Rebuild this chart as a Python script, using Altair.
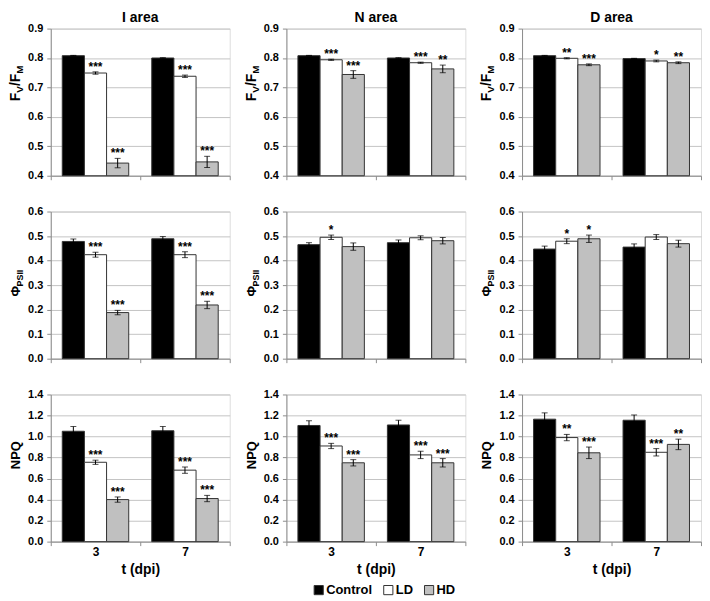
import altair as alt
import pandas as pd

FONT = "Liberation Sans"

TIMES = ["3", "7"]
TREATMENTS = ["Control", "LD", "HD"]
AREAS = ["I area", "N area", "D area"]
COLORS = ["#000000", "#ffffff", "#c0c0c0"]

# order of each list: 3-Control, 3-LD, 3-HD, 7-Control, 7-LD, 7-HD
FVFM_I = [0.808, 0.749, 0.443, 0.800, 0.738, 0.447]
FVFM_I_ERR = [0.001, 0.004, 0.016, 0.001, 0.004, 0.019]
FVFM_I_SIG = ["", "***", "***", "", "***", "***"]
FVFM_N = [0.808, 0.794, 0.744, 0.800, 0.784, 0.763]
FVFM_N_ERR = [0.001, 0.002, 0.013, 0.001, 0.002, 0.013]
FVFM_N_SIG = ["", "***", "***", "", "***", "**"]
FVFM_D = [0.808, 0.799, 0.777, 0.798, 0.790, 0.784]
FVFM_D_ERR = [0.001, 0.002, 0.003, 0.001, 0.003, 0.003]
FVFM_D_SIG = ["", "**", "***", "", "*", "**"]

PHI_I = [0.478, 0.424, 0.188, 0.489, 0.424, 0.219]
PHI_I_ERR = [0.010, 0.010, 0.009, 0.009, 0.012, 0.015]
PHI_I_SIG = ["", "***", "***", "", "***", "***"]
PHI_N = [0.465, 0.495, 0.457, 0.473, 0.493, 0.481]
PHI_N_ERR = [0.008, 0.009, 0.015, 0.011, 0.008, 0.013]
PHI_N_SIG = ["", "*", "", "", "", ""]
PHI_D = [0.447, 0.479, 0.489, 0.455, 0.496, 0.469]
PHI_D_ERR = [0.012, 0.010, 0.015, 0.013, 0.010, 0.014]
PHI_D_SIG = ["", "*", "*", "", "", ""]

NPQ_I = [1.050, 0.755, 0.400, 1.055, 0.680, 0.410]
NPQ_I_ERR = [0.045, 0.020, 0.025, 0.040, 0.030, 0.030]
NPQ_I_SIG = ["", "***", "***", "", "***", "***"]
NPQ_N = [1.105, 0.910, 0.750, 1.110, 0.825, 0.750]
NPQ_N_ERR = [0.045, 0.025, 0.030, 0.045, 0.035, 0.040]
NPQ_N_SIG = ["", "***", "***", "", "***", "***"]
NPQ_D = [1.165, 0.990, 0.845, 1.155, 0.850, 0.925]
NPQ_D_ERR = [0.060, 0.030, 0.055, 0.050, 0.035, 0.050]
NPQ_D_SIG = ["", "**", "***", "", "***", "**"]

ROWS = [
    dict(domain=[0.4, 0.9], ticks=[0.4, 0.5, 0.6, 0.7, 0.8, 0.9],
         title=[("F", 14, False), ("V", 10, True), ("/F", 14, False), ("M", 10, True)],
         tcenter=55,
         data=[(FVFM_I, FVFM_I_ERR, FVFM_I_SIG), (FVFM_N, FVFM_N_ERR, FVFM_N_SIG),
               (FVFM_D, FVFM_D_ERR, FVFM_D_SIG)]),
    dict(domain=[0.0, 0.6], ticks=[0.0, 0.1, 0.2, 0.3, 0.4, 0.5, 0.6],
         title=[("Φ", 13, False), ("PSII", 9, True)],
         tcenter=72,
         data=[(PHI_I, PHI_I_ERR, PHI_I_SIG), (PHI_N, PHI_N_ERR, PHI_N_SIG),
               (PHI_D, PHI_D_ERR, PHI_D_SIG)]),
    dict(domain=[0.0, 1.4], ticks=[0.0, 0.2, 0.4, 0.6, 0.8, 1.0, 1.2, 1.4],
         title=[("NPQ", 13, False)],
         tcenter=61,
         data=[(NPQ_I, NPQ_I_ERR, NPQ_I_SIG), (NPQ_N, NPQ_N_ERR, NPQ_N_SIG),
               (NPQ_D, NPQ_D_ERR, NPQ_D_SIG)]),
]

CHARW = {"F": 0.611, "V": 0.667, "/": 0.278, "M": 0.833, "Φ": 0.778, "P": 0.667,
         "S": 0.667, "I": 0.278, "N": 0.722, "Q": 0.778}

W, H = 180, 148


def text_width(txt, size):
    return sum(CHARW.get(c, 0.6) for c in txt) * size


def make_df(vals, errs, sigs):
    rows = []
    i = 0
    for t in TIMES:
        for tr in TREATMENTS:
            rows.append(dict(t=t, trt=tr, val=vals[i], lo=vals[i] - errs[i],
                             hi=vals[i] + errs[i], sig=sigs[i]))
            i += 1
    return pd.DataFrame(rows)


def one_row():
    return alt.Data(values=[{"k": 0}])


def title_layers(pieces, center):
    total = sum(text_width(t, s) for t, s, _ in pieces)
    y = center + total / 2
    layers = []
    for txt, size, sub in pieces:
        layers.append(
            alt.Chart(one_row())
            .mark_text(text=txt, angle=270, align="left", baseline="alphabetic",
                       font=FONT, fontWeight="bold", fontSize=size, color="black")
            .encode(x=alt.value(-31 + (3 if sub else 0)), y=alt.value(y))
        )
        y -= text_width(txt, size)
    return layers


def panel(r, c):
    row = ROWS[r]
    vals, errs, sigs = row["data"][c]
    df = make_df(vals, errs, sigs)
    bottom = r == 2

    x_axis = alt.Axis(
        title="t (dpi)" if bottom else None, labels=bottom, tickBand="extent",
        tickSize=4, tickColor="#8c8c8c", domainColor="#8c8c8c", labelAngle=0,
        labelFont=FONT, labelFontWeight="bold", labelFontSize=12, labelColor="black",
        labelPadding=1, titleFont=FONT, titleFontWeight="bold", titleFontSize=14,
        titleColor="black", titlePadding=5, grid=False,
    )
    x = alt.X("t:N", sort=TIMES, scale=alt.Scale(paddingInner=0, paddingOuter=0), axis=x_axis)
    xo = alt.XOffset("trt:N", sort=TREATMENTS,
                     scale=alt.Scale(paddingInner=0, paddingOuter=0.52))
    y_axis = alt.Axis(
        values=row["ticks"], format=".1f", title=None, labelFont=FONT,
        labelFontWeight="bold", labelFontSize=11, labelColor="black", labelPadding=4,
        labelOverlap=False, tickSize=4, tickColor="#8c8c8c", domainColor="#8c8c8c",
        gridColor="#c4c4c4", grid=True,
    )
    yscale = alt.Scale(domain=row["domain"], zero=False, nice=False)

    def yenc(field):
        return alt.Y(field, type="quantitative", scale=yscale, axis=y_axis)

    base = alt.Chart(df)
    bars = base.mark_bar(stroke="#333333", strokeWidth=1).encode(
        x=x, xOffset=xo,
        y=yenc("val"),
        y2=alt.datum(row["domain"][0]),
        color=alt.Color(
            "trt:N", sort=TREATMENTS,
            scale=alt.Scale(domain=TREATMENTS, range=COLORS),
            legend=alt.Legend(
                orient="none", legendX=263, legendY=558, direction="horizontal",
                title=None, symbolType="square", symbolSize=85,
                symbolStrokeColor="#333333", symbolStrokeWidth=1, symbolOpacity=1,
                labelFont=FONT, labelFontSize=13, labelFontWeight="bold",
                labelColor="black", columnPadding=8, labelOffset=1,
            ),
        ),
    )
    rule = base.mark_rule(color="black", strokeWidth=1).encode(
        x=x, xOffset=xo, y=yenc("lo"), y2="hi:Q")
    cap_hi = base.mark_tick(orient="horizontal", size=6, thickness=1, color="black").encode(
        x=x, xOffset=xo, y=yenc("hi"))
    cap_lo = base.mark_tick(orient="horizontal", size=6, thickness=1, color="black").encode(
        x=x, xOffset=xo, y=yenc("lo"))
    stars = base.transform_filter("datum.sig != ''").mark_text(
        font=FONT, fontWeight="bold", fontSize=12, baseline="alphabetic", dy=-1,
        color="black").encode(
        x=x, xOffset=xo, y=yenc("hi"), text="sig:N")

    layers = [bars, rule, cap_hi, cap_lo, stars] + title_layers(row["title"], row["tcenter"])
    if r == 0:
        layers.append(
            alt.Chart(one_row())
            .mark_text(text=AREAS[c], align="center", baseline="alphabetic", font=FONT,
                       fontWeight="bold", fontSize=14, color="black")
            .encode(x=alt.value(W / 2), y=alt.value(-7))
        )
    return alt.layer(*layers).properties(width=W, height=H)


panels = [panel(r, c) for r in range(3) for c in range(3)]

chart = (
    alt.concat(*panels, columns=3, spacing={"row": 36, "column": 57}, bounds="flush")
    .resolve_scale(x="independent", y="independent", color="shared")
    .properties(padding={"left": 0, "top": 0, "right": 0, "bottom": 0})
    .configure_view(stroke="transparent")
    .configure(font=FONT)
)

chart.save("out.html", embed_options={"renderer": "svg", "actions": False})
